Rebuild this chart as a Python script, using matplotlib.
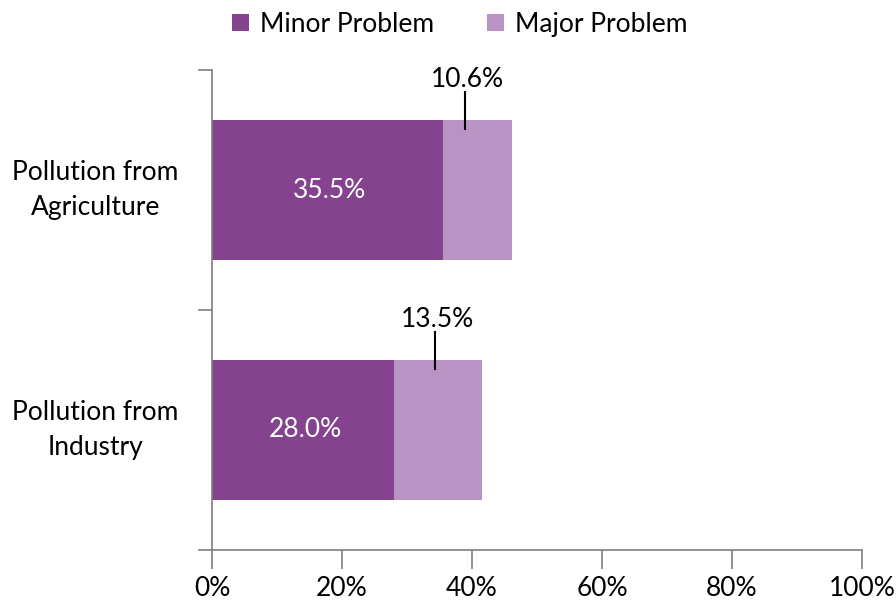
import matplotlib
matplotlib.use("Agg")
import matplotlib.pyplot as plt
import numpy as np

plt.rcParams['font.family'] = ['Lato', 'DejaVu Sans']

# data
categories = ["Pollution from\nAgriculture", "Pollution from\nIndustry"]
minor = [35.5, 28.0]
major = [10.6, 13.5]
series_names = ["Minor Problem", "Major Problem"]
xticks = [0, 20, 40, 60, 80, 100]

# layout: where the leader line for the major label sits (x in %)
leader_x = [38.9, 34.3]

c_minor = "#84428F"
c_major = "#B893C3"
spine_col = "#7f7f7f"
fs = 19

fig = plt.figure(figsize=(8.96, 6.01), dpi=100)
ax = fig.add_axes([0.2366, 0.0849, 0.7254, 0.7986])

y = np.arange(len(categories))
h = 0.583
b1 = ax.barh(y, minor, height=h, color=c_minor, label=series_names[0])
b2 = ax.barh(y, major, left=minor, height=h, color=c_major, label=series_names[1])

# value labels
for i in range(len(categories)):
    ax.text(minor[i] / 2 + 0.3, y[i], f"{minor[i]:.1f}%", color="white",
            ha="center", va="center", fontsize=fs)
    top = y[i] - h / 2
    ax.plot([leader_x[i], leader_x[i]], [top - 0.12, top + 0.04],
            color="black", lw=1.5, solid_capstyle="butt")
    ax.text(leader_x[i] + 0.4, top - 0.17, f"{major[i]:.1f}%", color="black",
            ha="center", va="center", fontsize=fs)

ax.set_xlim(0, 100)
ax.set_ylim(1.5, -0.5)
ax.set_xticks(xticks)
ax.set_xticklabels([f"{t}%" for t in xticks], fontsize=fs)

# category ticks between groups, labels at centres
ax.set_yticks([-0.5, 0.5, 1.5])
ax.set_yticklabels([])
ax.set_yticks(y, minor=True)
ax.set_yticklabels(categories, minor=True, fontsize=fs, ha="center",
                   va="center", linespacing=1.5)
ax.tick_params(axis="y", which="minor", length=0, pad=84)
ax.tick_params(axis="y", which="major", length=10, width=1.2,
               color=spine_col, direction="out")
ax.tick_params(axis="x", length=14, width=1.2, color=spine_col,
               direction="out", pad=5)

for s in ["top", "right"]:
    ax.spines[s].set_visible(False)
for s in ["left", "bottom"]:
    ax.spines[s].set_color(spine_col)
    ax.spines[s].set_linewidth(1.2)

fig.legend(handles=[b1, b2], labels=series_names, loc="upper center",
           bbox_to_anchor=(0.513, 1.02), ncol=2, frameon=False,
           fontsize=fs, handlelength=0.65, handleheight=0.65,
           handletextpad=0.4, columnspacing=2.0)

fig.savefig("out.png", dpi=100)
